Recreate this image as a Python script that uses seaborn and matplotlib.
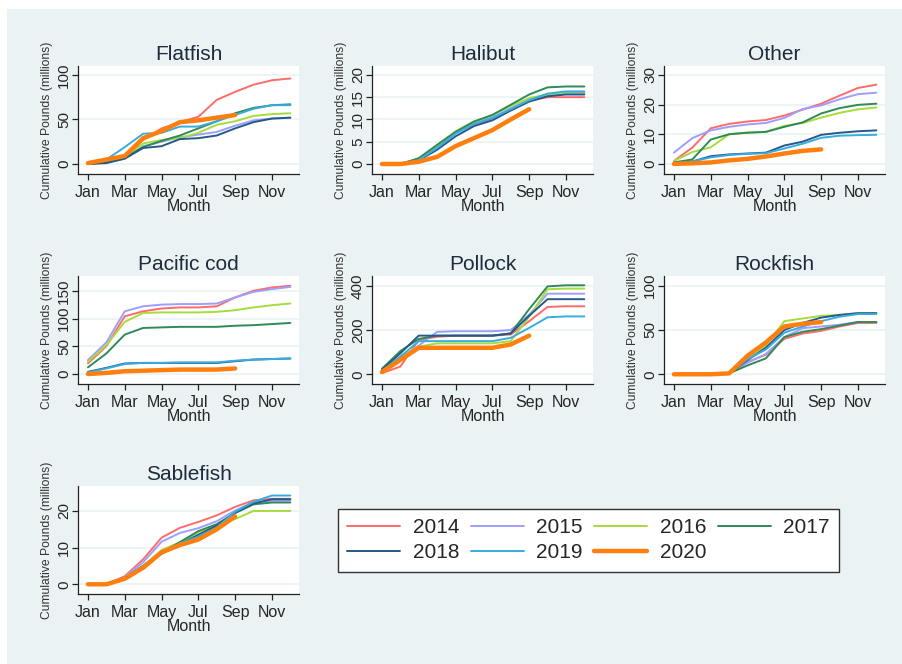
import pandas as pd
import matplotlib.pyplot as plt
import numpy as np
import seaborn as sns
from matplotlib.lines import Line2D
from matplotlib.patches import Rectangle

years = ['2014', '2015', '2016', '2017', '2018', '2019', '2020']
colors = ['#ff6b6b', '#9e9eff', '#a6dc3c', '#2f8a55', '#25598a', '#36ace0', '#ff7f0e']
month_ticks = [1, 3, 5, 7, 9, 11]
month_labels = ['Jan', 'Mar', 'May', 'Jul', 'Sep', 'Nov']

# cumulative pounds (millions), Jan..Dec, 2020 only through Sep
flatfish = {
    '2014': [0, 5, 8, 27, 40, 47, 53, 72, 81, 89, 94, 96],
    '2015': [0, 2, 6, 20, 25, 30, 33, 36, 43, 49, 51, 52],
    '2016': [0, 2, 8, 23, 27, 29, 35, 44, 48, 54, 56, 57],
    '2017': [0, 2, 7, 19, 26, 32, 40, 48, 57, 63, 66, 67],
    '2018': [0, 1, 6, 18, 20, 28, 29, 32, 40, 47, 51, 52],
    '2019': [0, 5, 19, 34, 35, 42, 42, 48, 55, 62, 66, 66],
    '2020': [1, 5, 9, 29, 37, 47, 49, 52, 55],
}
halibut = {
    '2014': [0, 0, 1.0, 4.0, 7.0, 8.8, 10.2, 12.3, 14.2, 15.0, 15.0, 15.0],
    '2015': [0, 0, 1.0, 3.8, 7.0, 9.0, 10.5, 12.5, 14.5, 15.5, 16.0, 16.0],
    '2016': [0, 0, 1.2, 4.2, 7.3, 9.6, 11.0, 13.0, 14.8, 15.6, 15.8, 15.8],
    '2017': [0, 0, 1.3, 4.3, 7.2, 9.5, 11.0, 13.3, 15.6, 17.2, 17.4, 17.4],
    '2018': [0, 0, 0.8, 3.2, 6.2, 8.5, 9.8, 12.0, 14.0, 15.2, 15.6, 15.6],
    '2019': [0, 0, 0.9, 3.6, 6.8, 9.0, 10.3, 12.3, 14.3, 15.8, 16.3, 16.3],
    '2020': [0, 0, 0.5, 1.6, 4.0, 5.8, 7.6, 10.0, 12.3],
}
other = {
    '2014': [1.0, 5.5, 12.0, 13.5, 14.3, 14.8, 16.3, 18.3, 20.3, 23.0, 25.6, 26.7],
    '2015': [3.8, 8.7, 11.3, 12.5, 13.3, 13.8, 15.5, 18.5, 19.7, 21.8, 23.5, 24.0],
    '2016': [1.0, 4.0, 5.6, 10.0, 10.6, 10.8, 12.8, 13.8, 15.6, 17.2, 18.4, 19.0],
    '2017': [0.5, 1.5, 8.2, 10.0, 10.5, 10.8, 12.5, 14.0, 17.0, 18.8, 19.9, 20.3],
    '2018': [0.2, 0.8, 2.6, 3.2, 3.5, 3.8, 6.2, 7.5, 9.8, 10.5, 11.0, 11.3],
    '2019': [0.2, 0.8, 2.2, 3.0, 3.4, 3.6, 5.2, 6.8, 8.8, 9.5, 9.7, 9.8],
    '2020': [0, 0.2, 0.5, 1.2, 1.7, 2.5, 3.5, 4.4, 4.9],
}
pacific_cod = {
    '2014': [19, 50, 104, 113, 118, 120, 120, 122, 138, 150, 156, 159],
    '2015': [25, 57, 113, 122, 125, 126, 126, 127, 138, 148, 153, 157],
    '2016': [22, 52, 94, 110, 111, 111, 111, 112, 115, 120, 124, 127],
    '2017': [12, 37, 71, 83, 84, 85, 85, 85, 87, 88, 90, 92],
    '2018': [4, 11, 19, 20, 20, 20, 20, 20, 23, 26, 27, 28],
    '2019': [3, 10, 18, 20, 20, 21, 21, 21, 24, 26, 27, 28],
    '2020': [0, 2, 5, 6, 7, 8, 8, 8, 10],
}
pollock = {
    '2014': [5, 35, 155, 170, 175, 175, 175, 180, 240, 305, 308, 308],
    '2015': [10, 70, 130, 192, 195, 195, 195, 200, 270, 365, 365, 365],
    '2016': [15, 80, 125, 140, 140, 140, 140, 150, 260, 385, 388, 388],
    '2017': [25, 105, 160, 175, 175, 175, 175, 185, 295, 398, 403, 403],
    '2018': [20, 95, 175, 175, 175, 175, 175, 185, 265, 340, 340, 340],
    '2019': [15, 80, 150, 150, 150, 150, 150, 165, 210, 258, 262, 262],
    '2020': [10, 65, 120, 120, 120, 120, 120, 135, 175],
}
rockfish = {
    '2014': [0, 0, 0, 1, 14, 22, 40, 46, 49, 54, 58, 58],
    '2015': [0, 0, 0, 1, 13, 23, 42, 52, 54, 56, 59, 59],
    '2016': [0, 0, 0, 1, 19, 32, 60, 63, 66, 67, 69, 69],
    '2017': [0, 0, 0, 1, 10, 18, 42, 48, 51, 55, 59, 59],
    '2018': [0, 0, 0, 1, 16, 30, 50, 58, 64, 67, 69, 69],
    '2019': [0, 0, 0, 1, 17, 28, 47, 54, 60, 65, 68, 68],
    '2020': [0, 0, 0, 1, 21, 36, 54, 57, 59],
}
sablefish = {
    '2014': [0, 0, 2.2, 6.8, 12.7, 15.4, 17.0, 18.8, 21.1, 22.9, 23.3, 23.3],
    '2015': [0, 0, 2.0, 6.0, 11.6, 14.0, 15.3, 17.2, 20.1, 22.4, 22.8, 22.8],
    '2016': [0, 0, 1.8, 5.0, 9.3, 11.5, 14.2, 16.0, 17.8, 20.0, 20.0, 20.0],
    '2017': [0, 0, 1.7, 5.0, 8.5, 11.5, 14.5, 16.4, 19.4, 21.8, 22.3, 22.3],
    '2018': [0, 0, 1.7, 5.0, 8.3, 11.0, 13.5, 16.0, 19.6, 22.0, 23.2, 23.2],
    '2019': [0, 0, 1.8, 5.0, 8.6, 11.2, 13.0, 15.5, 19.8, 22.5, 24.2, 24.2],
    '2020': [0, 0, 1.5, 4.5, 8.7, 10.7, 12.2, 15.0, 18.5],
}

panels = [
    ('Flatfish', flatfish, [0, 50, 100], (-11.2, 110)),
    ('Halibut', halibut, [0, 5, 10, 15, 20], (-2.25, 22)),
    ('Other', other, [0, 10, 20, 30], (-3.4, 33)),
    ('Pacific cod', pacific_cod, [0, 50, 100, 150], (-18, 176.6)),
    ('Pollock', pollock, [0, 200, 400], (-44, 445)),
    ('Rockfish', rockfish, [0, 50, 100], (-11, 111)),
    ('Sablefish', sablefish, [0, 10, 20], (-2.65, 26.8)),
]

sns.set_style('white')
plt.rcParams['font.family'] = ['Liberation Sans', 'DejaVu Sans']

bg = '#eaf2f3'
W, H = 902, 664
fig = plt.figure(figsize=(W / 100, H / 100), dpi=100, facecolor='white')
fig.patches.append(Rectangle((7 / W, 0), 1, 1 - 9 / H, transform=fig.transFigure,
                             facecolor=bg, edgecolor='none', zorder=-10))

col_left = [78, 372, 664]
row_top = [66, 276, 486]
ax_w, ax_h = 221, 108

palette = dict(zip(years, colors))
sizes = {y: 1.4 for y in years}
sizes['2020'] = 3.2

for i, (name, data, yticks, ylim) in enumerate(panels):
    r, c = divmod(i, 3)
    ax = fig.add_axes([col_left[c] / W, 1 - (row_top[r] + ax_h) / H, ax_w / W, ax_h / H])
    rows = []
    for y in years:
        for m, v in enumerate(data[y], start=1):
            rows.append((y, m, v))
    df = pd.DataFrame(rows, columns=['year', 'month', 'value'])
    sns.lineplot(data=df, x='month', y='value', hue='year', size='year',
                 hue_order=years, size_order=years, palette=palette, sizes=sizes,
                 errorbar=None, legend=False, ax=ax)
    ax.set_facecolor('white')
    ax.set_xlim(0.46, 12.47)
    ax.set_ylim(*ylim)
    ax.set_xticks(month_ticks)
    ax.set_xticklabels(month_labels)
    ax.set_yticks(yticks)
    ax.set_yticklabels([str(t) for t in yticks])
    ax.yaxis.grid(True, color=bg, lw=1.2)
    ax.set_axisbelow(True)
    for s in ['top', 'right']:
        ax.spines[s].set_visible(False)
    for s in ['left', 'bottom']:
        ax.spines[s].set_color('#222222')
        ax.spines[s].set_linewidth(0.9)
    ax.tick_params(axis='x', length=4, width=0.9, color='#222222', labelsize=11.5, pad=4, direction='out', bottom=True)
    ax.tick_params(axis='y', length=4, width=0.9, color='#222222', labelsize=11, pad=1, direction='out', left=True,
                   labelrotation=90)
    for lab in ax.get_yticklabels():
        lab.set_va('center')
    ax.set_title(name, fontsize=15, color='#1e2b3c', pad=4)
    ax.set_xlabel('Month', fontsize=11.5, labelpad=-1)
    ax.set_ylabel('Cumulative Pounds (millions)', fontsize=8.7, labelpad=3, color='#333333')

# legend filled row by row like the original (4 columns)
leg_order = ['2014', '2018', '2015', '2019', '2016', '2020', '2017']
handles = [Line2D([0], [0], color=palette[y], lw=sizes[y]) for y in leg_order]
fig.legend(handles, leg_order, loc='center', bbox_to_anchor=(588.5 / W, 1 - 540 / H), ncol=4,
           fontsize=15, frameon=True, fancybox=False, edgecolor='#333333', framealpha=1,
           handlelength=2.55, handletextpad=0.6, columnspacing=0.55, labelspacing=0.3,
           borderpad=0.45)

plt.savefig('out.png', dpi=100, facecolor='white')
